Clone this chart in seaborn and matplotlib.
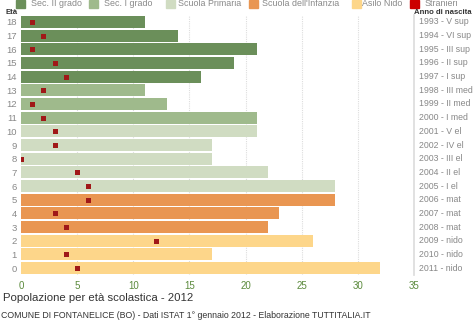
import matplotlib
matplotlib.use("Agg")
import matplotlib.pyplot as plt
import matplotlib.patches as mpatches
import matplotlib.transforms as mtransforms
import seaborn as sns
import pandas as pd

ages = list(range(18, -1, -1))
counts = [11, 14, 21, 19, 16, 11, 13, 21, 21, 17, 17, 22, 28, 28, 23, 22, 26, 17, 32]
stranieri = [1, 2, 1, 3, 4, 2, 1, 2, 3, 3, 0, 5, 6, 6, 3, 4, 12, 4, 5]
grado = (["Sec. II grado"] * 5 + ["Sec. I grado"] * 3 + ["Scuola Primaria"] * 5 +
         ["Scuola dell'Infanzia"] * 3 + ["Asilo Nido"] * 3)
right_labels = ["1993 - V sup", "1994 - VI sup", "1995 - III sup", "1996 - II sup",
                "1997 - I sup", "1998 - III med", "1999 - II med", "2000 - I med",
                "2001 - V el", "2002 - IV el", "2003 - III el", "2004 - II el",
                "2005 - I el", "2006 - mat", "2007 - mat", "2008 - mat",
                "2009 - nido", "2010 - nido", "2011 - nido"]
categories = ["Sec. II grado", "Sec. I grado", "Scuola Primaria",
              "Scuola dell'Infanzia", "Asilo Nido"]
colors = ["#6b8f5a", "#9fba8c", "#d0dcc2", "#e99652", "#fdd68a"]
legend_labels = categories + ["Stranieri"]
legend_colors = colors + ["#cc0000"]
x_ticks = [0, 5, 10, 15, 20, 25, 30, 35]

df = pd.DataFrame({"age": [str(a) for a in ages], "count": counts,
                   "grado": grado, "stranieri": stranieri})
order = [str(a) for a in ages]

sns.set_theme(style="white")
plt.rcParams['font.family'] = ['Liberation Sans', 'DejaVu Sans']

W, H = 474, 326
fig = plt.figure(figsize=(W / 100, H / 100), dpi=100)
ax = fig.add_axes([21 / W, 1 - 275 / H, (414 - 21) / W, 260 / H])

sns.barplot(data=df, x="count", y="age", hue="grado", order=order,
            hue_order=categories, palette=dict(zip(categories, colors)),
            orient="h", dodge=False, width=0.88, ax=ax, legend=False,
            saturation=1, linewidth=0)
sns.stripplot(data=df, x="stranieri", y="age", order=order, orient="h",
              jitter=False, marker="s", size=3.6, color="#a01818", ax=ax,
              zorder=5, linewidth=0)

ax.set_xlim(0, 35)
ax.set_ylim(18.5, -0.5)
ax.set_xticks(x_ticks)
ax.set_xticklabels([str(t) for t in x_ticks], color="#5b8a3c", fontsize=7)
ax.tick_params(axis="y", labelsize=6.8, labelcolor="#888888", length=0, pad=3)
ax.tick_params(axis="x", length=2, pad=2, color="#cccccc")
ax.set_xlabel("")
ax.set_ylabel("")
for s in ["top", "left", "bottom"]:
    ax.spines[s].set_visible(False)
ax.spines["right"].set_color("#dddddd")
for t in x_ticks[1:-1]:
    ax.axvline(t, color="#dddddd", linestyle=(0, (1, 1)), linewidth=0.8, zorder=0)
ax.set_axisbelow(True)

right_tr = mtransforms.blended_transform_factory(fig.transFigure, ax.transData)
for i, lab in enumerate(right_labels):
    ax.text(419 / W, i, lab, transform=right_tr, va="center", ha="left",
            fontsize=6.3, color="#888888", clip_on=False)

fig.text(5 / W, 1 - 13 / H, "Età", fontsize=5.6, fontweight="bold",
         color="#333333", va="center")
fig.text(414 / W, 1 - 13 / H, "Anno di nascita", fontsize=5.6, fontweight="bold",
         color="#333333", va="center")

# legend row
patch_x = [16, 89, 166, 249, 352, 410]
text_x = [31, 104, 178, 262, 362, 425]
for px, tx, lab, col in zip(patch_x, text_x, legend_labels, legend_colors):
    fig.patches.append(mpatches.Rectangle((px / W, 1 - 8 / H), 9 / W, 8 / H,
                                          transform=fig.transFigure, color=col,
                                          figure=fig))
    fig.text(tx / W, 1 - 4 / H, lab, fontsize=6.4, color="#888888", va="center")

fig.text(3 / W, 1 - 298 / H, "Popolazione per età scolastica - 2012", fontsize=8.2,
         color="#333333", va="center")
fig.text(1 / W, 1 - 316 / H,
         "COMUNE DI FONTANELICE (BO) - Dati ISTAT 1° gennaio 2012 - Elaborazione TUTTITALIA.IT",
         fontsize=6.35, color="#333333", va="center")

fig.savefig("out.png", dpi=100)
